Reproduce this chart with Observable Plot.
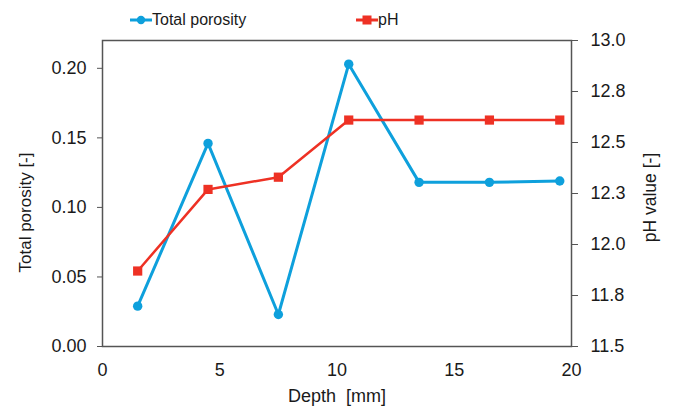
<!DOCTYPE html>
<html>
<head>
<meta charset="utf-8">
<script src="https://cdn.jsdelivr.net/npm/d3@7"></script>
<script src="https://cdn.jsdelivr.net/npm/@observablehq/plot@0.6"></script>
<style>
  html, body { margin: 0; padding: 0; background: #fff; }
  #wrap { position: relative; width: 674px; height: 414px; font-family: "Liberation Sans", Arial, sans-serif; color: #1a1a1a; }
  #legend { position: absolute; left: 0; top: 0; width: 674px; height: 36px; }
  .item { position: absolute; top: 9px; display: flex; align-items: center; font-size: 16px; line-height: 22px; }
  .item svg { display: block; }
  #chart { position: absolute; left: 0; top: 0; }
</style>
</head>
<body>
<div id="wrap">
  <div id="chart"></div>
  <div id="legend"></div>
</div>
<script>
// ---- data ----
const depth = [1.5, 4.5, 7.5, 10.5, 13.5, 16.5, 19.5];
const porosity = [0.029, 0.146, 0.023, 0.203, 0.118, 0.118, 0.119];
const pH = [11.87, 12.27, 12.33, 12.61, 12.61, 12.61, 12.61];
const depthTicks = [0, 5, 10, 15, 20];
const porosityTicks = [0, 0.05, 0.10, 0.15, 0.20];
const pHTicks = [11.5, 11.75, 12.0, 12.25, 12.5, 12.75, 13.0];
const pHTickLabels = ["11.5", "11.8", "12.0", "12.3", "12.5", "12.8", "13.0"];
const seriesNames = ["Total porosity", "pH"];
const xLabel = "Depth  [mm]";
const yLabel = "Total porosity [-]";
const y2Label = "pH value [-]";

const blue = "#0ea0dc";
const red = "#ee3124";
const ink = "#1a1a1a";

// map pH onto the porosity scale domain
const yDomain = [0, 0.22];
const pHDomain = [11.5, 13.0];
const toY = v => (v - pHDomain[0]) / (pHDomain[1] - pHDomain[0]) * (yDomain[1] - yDomain[0]) + yDomain[0];
const fromY = v => (v - yDomain[0]) / (yDomain[1] - yDomain[0]) * (pHDomain[1] - pHDomain[0]) + pHDomain[0];

const rows = depth.map((d, i) => ({depth: d, porosity: porosity[i], pH: pH[i], pHy: toY(pH[i])}));
const pHLabel = v => {
  const p = fromY(v);
  let best = 0;
  pHTicks.forEach((t, i) => { if (Math.abs(t - p) < Math.abs(pHTicks[best] - p)) best = i; });
  return pHTickLabels[best];
};

const chart = Plot.plot({
  width: 674,
  height: 414,
  marginLeft: 102,
  marginRight: 103,
  marginTop: 40,
  marginBottom: 68,
  style: {fontFamily: "Liberation Sans, Arial, sans-serif", fontSize: "18px", color: ink, background: "#fff"},
  x: {domain: [0, 20]},
  y: {domain: yDomain},
  marks: [
    Plot.axisX({ticks: depthTicks, tickSize: 0, tickPadding: 17, label: null, tickFormat: d => String(d), fontSize: 18, fill: ink}),
    Plot.axisY({ticks: porosityTicks, tickSize: 5, tickPadding: 11, label: null, tickFormat: d => d.toFixed(2), stroke: "#555", fill: ink, fontSize: 18}),
    Plot.axisY({anchor: "right", ticks: pHTicks.map(toY), tickSize: 6, tickPadding: 13, label: null, tickFormat: pHLabel, stroke: "#555", fill: ink, fontSize: 18}),
    Plot.frame({stroke: "#555", strokeWidth: 1.5}),
    Plot.text([yLabel], {frameAnchor: "left", textAnchor: "middle", dx: -77, dy: 19, rotate: -90, text: d => d, fontSize: 17, fill: ink}),
    Plot.text([y2Label], {frameAnchor: "right", textAnchor: "middle", dx: 79, dy: 4, rotate: -90, text: d => d, fontSize: 17.5, fill: ink}),
    Plot.text([xLabel], {frameAnchor: "bottom", textAnchor: "middle", dy: 55, text: d => d, fontSize: 18, fill: ink}),
    Plot.line(rows, {x: "depth", y: "porosity", stroke: blue, strokeWidth: 3}),
    Plot.dot(rows, {x: "depth", y: "porosity", r: 4.7, fill: blue, stroke: "none"}),
    Plot.line(rows, {x: "depth", y: "pHy", stroke: red, strokeWidth: 2.5}),
    Plot.dot(rows, {x: "depth", y: "pHy", symbol: "square", r: 5.2, fill: red, stroke: "none"})
  ]
});
document.getElementById("chart").appendChild(chart);

// legend
const legend = document.getElementById("legend");
const items = [
  {name: seriesNames[0], color: blue, symbol: "circle", left: 130},
  {name: seriesNames[1], color: red, symbol: "square", left: 356}
];
items.forEach(it => {
  const div = document.createElement("div");
  div.className = "item";
  div.style.left = it.left + "px";
  const w = 22;
  const marker = it.symbol === "circle"
    ? `<circle cx="${w/2}" cy="11" r="4.2" fill="${it.color}"/>`
    : `<rect x="${w/2-4.5}" y="6.5" width="9" height="9" fill="${it.color}"/>`;
  div.innerHTML = `<svg width="${w}" height="22"><line x1="0" x2="${w}" y1="11" y2="11" stroke="${it.color}" stroke-width="3"/>${marker}</svg><span>${it.name}</span>`;
  legend.appendChild(div);
});
</script>
</body>
</html>
